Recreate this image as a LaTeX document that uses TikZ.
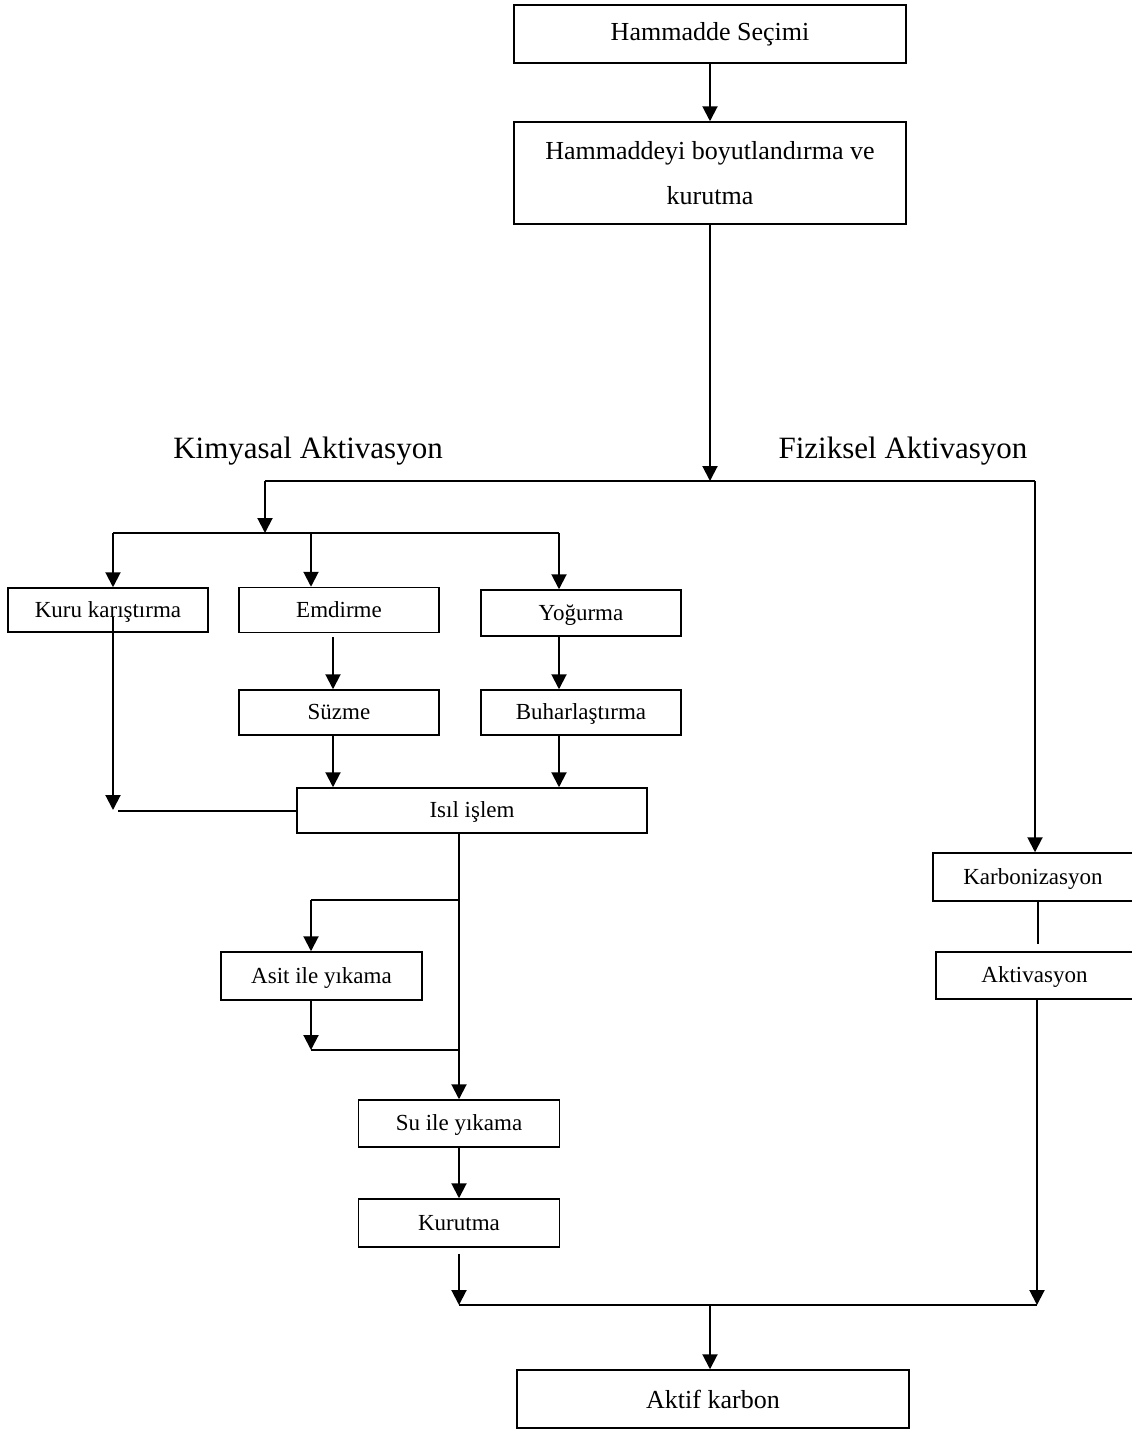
\documentclass[tikz,border=0pt]{standalone}
\usepackage{fontspec}
\setmainfont{Liberation Serif}
\usetikzlibrary{arrows.meta}
\begin{document}
\begin{tikzpicture}[x=1pt,y=-1pt,
 box/.style={draw, line width=1.5pt, inner sep=0pt, align=center, text height=18pt, text depth=4pt, font=\fontsize{23}{28}\selectfont},
 bigbox/.style={draw, line width=1.5pt, inner sep=0pt, align=center, font=\fontsize{26}{45}\selectfont},
 ln/.style={line width=2pt},
 thinln/.style={line width=1.2pt},
 arr/.style={ln, -{Triangle[length=15pt,width=15pt]}},
 lab/.style={font=\fontsize{31}{36}\selectfont}]
\useasboundingbox (0,0) rectangle (1132,1430);
% boxes
\node[bigbox, minimum width=392pt, minimum height=58pt] (h1) at (710,34) {Hammadde Seçimi};
\node[bigbox, minimum width=392pt, minimum height=102pt] (h2) at (710,173) {Hammaddeyi boyutlandırma ve\\kurutma};
\node[box, minimum width=200pt, minimum height=44pt] (kuru) at (108,610) {Kuru karıştırma};
\node[box, minimum width=200pt, minimum height=45pt] (emd) at (339,610) {Emdirme};
\node[box, minimum width=200pt, minimum height=46pt] (yog) at (581,613) {Yoğurma};
\node[box, minimum width=200pt, minimum height=45pt] (suz) at (339,712.5) {Süzme};
\node[box, minimum width=200pt, minimum height=45pt] (buh) at (581,712.5) {Buharlaştırma};
\node[box, minimum width=350pt, minimum height=45pt] (isil) at (472,810.5) {Isıl işlem};
\node[box, minimum width=201pt, minimum height=48pt] (asit) at (321.5,976) {Asit ile yıkama};
\node[box, minimum width=201pt, minimum height=47pt] (su) at (459,1123.5) {Su ile yıkama};
\node[box, minimum width=201pt, minimum height=48pt] (kur) at (459,1223) {Kurutma};
\node[box, minimum width=200pt, minimum height=48pt] (karb) at (1033,877) {Karbonizasyon};
\node[box, minimum width=197pt, minimum height=47pt] (akt) at (1034.5,975.5) {Aktivasyon};
\node[bigbox, minimum width=392pt, minimum height=58pt] (ak) at (713,1399) {Aktif karbon};
% labels
\node[lab] (kim) at (308,451) {Kimyasal Aktivasyon};
\node[lab] (fiz) at (903,451) {Fiziksel Aktivasyon};
% junction coordinates
\coordinate (c1) at (710,481);
\coordinate (cL) at (265,481);
\coordinate (cR) at (1035,481);
\coordinate (b2) at (265,533);
\coordinate (b2L) at (113,533);
\coordinate (b2M) at (311,533);
\coordinate (b2R) at (559,533);
\coordinate (cE) at (333,0);
\coordinate (cK) at (113,617);
\coordinate (kEnd) at (113,810);
\coordinate (kh) at (118,811);
\coordinate (a1) at (459,900);
\coordinate (a2) at (311,900);
\coordinate (a3) at (311,1050);
\coordinate (a4) at (459,1050);
\coordinate (m1) at (459,1305);
\coordinate (m0) at (710,1305);
\coordinate (m2) at (1037,1305);
\coordinate (r2) at (1038,0);
\coordinate (r3) at (1037,0);
% connectors
\draw[arr] (h1) -- (h2);
\draw[arr] (h2.south) -- (c1);
\draw[ln] (cL) -- (cR);
\draw[arr] (cL) -- (b2);
\draw[ln] (b2L) -- (b2R);
\draw[arr] (b2L) -- (kuru.north -| b2L);
\draw[arr] (b2M) -- (emd.north -| b2M);
\draw[arr] (b2R) -- (yog.north -| b2R);
\draw[arr, shorten <=4pt] (emd.south -| cE) -- (suz.north -| cE);
\draw[arr] (yog.south -| b2R) -- (buh.north -| b2R);
\draw[arr] (suz.south -| cE) -- (isil.north -| cE);
\draw[arr] (buh.south -| b2R) -- (isil.north -| b2R);
\draw[arr] (cK) -- (kEnd);
\draw[ln] (kh) -- (kh -| isil.west);
\draw[arr] (isil.south -| a1) -- (su.north);
\draw[ln] (a1) -- (a2);
\draw[arr] (a2) -- (asit.north -| a2);
\draw[arr] (asit.south -| a2) -- (a3);
\draw[ln] (a3) -- (a4);
\draw[arr] (su) -- (kur);
\draw[arr, shorten <=6pt] (kur.south) -- (m1);
\draw[arr] (cR) -- (karb.north -| cR);
\draw[thinln, shorten >=7pt] (karb.south -| r2) -- (akt.north -| r2);
\draw[arr] (akt.south -| r3) -- (m2);
\draw[ln] (m1) -- (m2);
\draw[arr] (m0) -- (ak.north -| m0);
\end{tikzpicture}
\end{document}
